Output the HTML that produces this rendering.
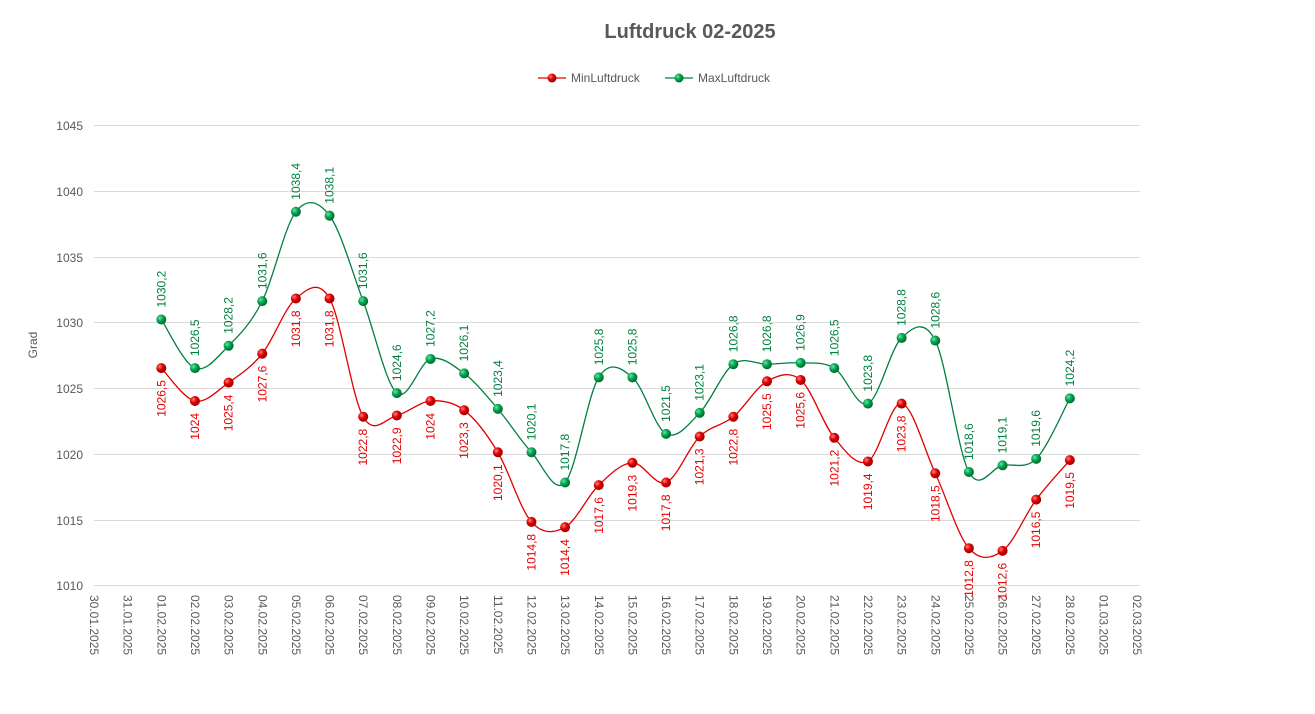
<!DOCTYPE html>
<html><head><meta charset="utf-8"><style>
body{margin:0;background:#fff;}
svg{display:block;font-family:"Liberation Sans",sans-serif;}
.g text{fill:#00803f;font-size:12px;}
.r text{fill:#e60000;font-size:12px;}
</style></head><body>
<svg id="s" width="1315" height="714" viewBox="0 0 1315 714">
<defs>
<radialGradient id="rg" cx="35%" cy="35%" r="65%"><stop offset="0" stop-color="#ff8080"/><stop offset="0.5" stop-color="#e00000"/><stop offset="1" stop-color="#a00000"/></radialGradient>
<radialGradient id="gg" cx="35%" cy="35%" r="65%"><stop offset="0" stop-color="#70e0a0"/><stop offset="0.5" stop-color="#00a550"/><stop offset="1" stop-color="#006a30"/></radialGradient>
</defs>
<text x="690" y="38" text-anchor="middle" font-size="20" font-weight="bold" fill="#595959">Luftdruck 02-2025</text>
<g font-size="12" fill="#595959">
<line x1="538" y1="78" x2="566" y2="78" stroke="#e00000" stroke-width="1.3"/><circle cx="552" cy="78" r="4.5" fill="url(#rg)"/>
<text x="571" y="82">MinLuftdruck</text>
<line x1="665" y1="78" x2="693" y2="78" stroke="#00803f" stroke-width="1.3"/><circle cx="679" cy="78" r="4.5" fill="url(#gg)"/>
<text x="698" y="82">MaxLuftdruck</text>
</g>
<g stroke="#d9d9d9" stroke-width="1">
<line x1="94" x2="1140" y1="125.5" y2="125.5"/><line x1="94" x2="1140" y1="191.5" y2="191.5"/><line x1="94" x2="1140" y1="257.5" y2="257.5"/><line x1="94" x2="1140" y1="322.5" y2="322.5"/><line x1="94" x2="1140" y1="388.5" y2="388.5"/><line x1="94" x2="1140" y1="454.5" y2="454.5"/><line x1="94" x2="1140" y1="520.5" y2="520.5"/><line x1="94" x2="1140" y1="585.5" y2="585.5"/>
</g>
<g font-size="12" fill="#595959" text-anchor="end">
<text x="83" y="130">1045</text><text x="83" y="196">1040</text><text x="83" y="262">1035</text><text x="83" y="327">1030</text><text x="83" y="393">1025</text><text x="83" y="459">1020</text><text x="83" y="525">1015</text><text x="83" y="590">1010</text>
</g>
<text transform="translate(37,345) rotate(-90)" text-anchor="middle" font-size="12" fill="#595959">Grad</text>
<g id="xl" font-size="12" fill="#595959">
<text transform="translate(94,595) rotate(90)" dominant-baseline="central">30.01.2025</text>
<text transform="translate(127.65,595) rotate(90)" dominant-baseline="central">31.01.2025</text>
<text transform="translate(161.3,595) rotate(90)" dominant-baseline="central">01.02.2025</text>
<text transform="translate(194.95,595) rotate(90)" dominant-baseline="central">02.02.2025</text>
<text transform="translate(228.6,595) rotate(90)" dominant-baseline="central">03.02.2025</text>
<text transform="translate(262.25,595) rotate(90)" dominant-baseline="central">04.02.2025</text>
<text transform="translate(295.9,595) rotate(90)" dominant-baseline="central">05.02.2025</text>
<text transform="translate(329.55,595) rotate(90)" dominant-baseline="central">06.02.2025</text>
<text transform="translate(363.2,595) rotate(90)" dominant-baseline="central">07.02.2025</text>
<text transform="translate(396.85,595) rotate(90)" dominant-baseline="central">08.02.2025</text>
<text transform="translate(430.5,595) rotate(90)" dominant-baseline="central">09.02.2025</text>
<text transform="translate(464.15,595) rotate(90)" dominant-baseline="central">10.02.2025</text>
<text transform="translate(497.8,595) rotate(90)" dominant-baseline="central">11.02.2025</text>
<text transform="translate(531.45,595) rotate(90)" dominant-baseline="central">12.02.2025</text>
<text transform="translate(565.1,595) rotate(90)" dominant-baseline="central">13.02.2025</text>
<text transform="translate(598.75,595) rotate(90)" dominant-baseline="central">14.02.2025</text>
<text transform="translate(632.4,595) rotate(90)" dominant-baseline="central">15.02.2025</text>
<text transform="translate(666.05,595) rotate(90)" dominant-baseline="central">16.02.2025</text>
<text transform="translate(699.7,595) rotate(90)" dominant-baseline="central">17.02.2025</text>
<text transform="translate(733.35,595) rotate(90)" dominant-baseline="central">18.02.2025</text>
<text transform="translate(767,595) rotate(90)" dominant-baseline="central">19.02.2025</text>
<text transform="translate(800.65,595) rotate(90)" dominant-baseline="central">20.02.2025</text>
<text transform="translate(834.3,595) rotate(90)" dominant-baseline="central">21.02.2025</text>
<text transform="translate(867.95,595) rotate(90)" dominant-baseline="central">22.02.2025</text>
<text transform="translate(901.6,595) rotate(90)" dominant-baseline="central">23.02.2025</text>
<text transform="translate(935.25,595) rotate(90)" dominant-baseline="central">24.02.2025</text>
<text transform="translate(968.9,595) rotate(90)" dominant-baseline="central">25.02.2025</text>
<text transform="translate(1002.55,595) rotate(90)" dominant-baseline="central">26.02.2025</text>
<text transform="translate(1036.2,595) rotate(90)" dominant-baseline="central">27.02.2025</text>
<text transform="translate(1069.85,595) rotate(90)" dominant-baseline="central">28.02.2025</text>
<text transform="translate(1103.5,595) rotate(90)" dominant-baseline="central">01.03.2025</text>
<text transform="translate(1137.15,595) rotate(90)" dominant-baseline="central">02.03.2025</text>
</g>
<g id="lines"></g>
<g class="g">
<text transform="translate(161.3,307.5) rotate(-90)" dominant-baseline="central">1030,2</text>
<text transform="translate(194.95,356.1) rotate(-90)" dominant-baseline="central">1026,5</text>
<text transform="translate(228.6,333.8) rotate(-90)" dominant-baseline="central">1028,2</text>
<text transform="translate(262.25,289.1) rotate(-90)" dominant-baseline="central">1031,6</text>
<text transform="translate(295.9,199.7) rotate(-90)" dominant-baseline="central">1038,4</text>
<text transform="translate(329.55,203.7) rotate(-90)" dominant-baseline="central">1038,1</text>
<text transform="translate(363.2,289.1) rotate(-90)" dominant-baseline="central">1031,6</text>
<text transform="translate(396.85,381.1) rotate(-90)" dominant-baseline="central">1024,6</text>
<text transform="translate(430.5,346.9) rotate(-90)" dominant-baseline="central">1027,2</text>
<text transform="translate(464.15,361.4) rotate(-90)" dominant-baseline="central">1026,1</text>
<text transform="translate(497.8,396.9) rotate(-90)" dominant-baseline="central">1023,4</text>
<text transform="translate(531.45,440.3) rotate(-90)" dominant-baseline="central">1020,1</text>
<text transform="translate(565.1,470.5) rotate(-90)" dominant-baseline="central">1017,8</text>
<text transform="translate(598.75,365.3) rotate(-90)" dominant-baseline="central">1025,8</text>
<text transform="translate(632.4,365.3) rotate(-90)" dominant-baseline="central">1025,8</text>
<text transform="translate(666.05,421.9) rotate(-90)" dominant-baseline="central">1021,5</text>
<text transform="translate(699.7,400.8) rotate(-90)" dominant-baseline="central">1023,1</text>
<text transform="translate(733.35,352.2) rotate(-90)" dominant-baseline="central">1026,8</text>
<text transform="translate(767,352.2) rotate(-90)" dominant-baseline="central">1026,8</text>
<text transform="translate(800.65,350.9) rotate(-90)" dominant-baseline="central">1026,9</text>
<text transform="translate(834.3,356.1) rotate(-90)" dominant-baseline="central">1026,5</text>
<text transform="translate(867.95,391.6) rotate(-90)" dominant-baseline="central">1023,8</text>
<text transform="translate(901.6,325.9) rotate(-90)" dominant-baseline="central">1028,8</text>
<text transform="translate(935.25,328.5) rotate(-90)" dominant-baseline="central">1028,6</text>
<text transform="translate(968.9,460) rotate(-90)" dominant-baseline="central">1018,6</text>
<text transform="translate(1002.55,453.4) rotate(-90)" dominant-baseline="central">1019,1</text>
<text transform="translate(1036.2,446.8) rotate(-90)" dominant-baseline="central">1019,6</text>
<text transform="translate(1069.85,386.4) rotate(-90)" dominant-baseline="central">1024,2</text>
</g>
<g class="r" text-anchor="end">
<text transform="translate(161.3,380.1) rotate(-90)" dominant-baseline="central">1026,5</text>
<text transform="translate(194.95,413) rotate(-90)" dominant-baseline="central">1024</text>
<text transform="translate(228.6,394.6) rotate(-90)" dominant-baseline="central">1025,4</text>
<text transform="translate(262.25,365.7) rotate(-90)" dominant-baseline="central">1027,6</text>
<text transform="translate(295.9,310.5) rotate(-90)" dominant-baseline="central">1031,8</text>
<text transform="translate(329.55,310.5) rotate(-90)" dominant-baseline="central">1031,8</text>
<text transform="translate(363.2,428.8) rotate(-90)" dominant-baseline="central">1022,8</text>
<text transform="translate(396.85,427.5) rotate(-90)" dominant-baseline="central">1022,9</text>
<text transform="translate(430.5,413) rotate(-90)" dominant-baseline="central">1024</text>
<text transform="translate(464.15,422.2) rotate(-90)" dominant-baseline="central">1023,3</text>
<text transform="translate(497.8,464.3) rotate(-90)" dominant-baseline="central">1020,1</text>
<text transform="translate(531.45,533.9) rotate(-90)" dominant-baseline="central">1014,8</text>
<text transform="translate(565.1,539.2) rotate(-90)" dominant-baseline="central">1014,4</text>
<text transform="translate(598.75,497.1) rotate(-90)" dominant-baseline="central">1017,6</text>
<text transform="translate(632.4,474.8) rotate(-90)" dominant-baseline="central">1019,3</text>
<text transform="translate(666.05,494.5) rotate(-90)" dominant-baseline="central">1017,8</text>
<text transform="translate(699.7,448.5) rotate(-90)" dominant-baseline="central">1021,3</text>
<text transform="translate(733.35,428.8) rotate(-90)" dominant-baseline="central">1022,8</text>
<text transform="translate(767,393.3) rotate(-90)" dominant-baseline="central">1025,5</text>
<text transform="translate(800.65,392) rotate(-90)" dominant-baseline="central">1025,6</text>
<text transform="translate(834.3,449.8) rotate(-90)" dominant-baseline="central">1021,2</text>
<text transform="translate(867.95,473.5) rotate(-90)" dominant-baseline="central">1019,4</text>
<text transform="translate(901.6,415.6) rotate(-90)" dominant-baseline="central">1023,8</text>
<text transform="translate(935.25,485.3) rotate(-90)" dominant-baseline="central">1018,5</text>
<text transform="translate(968.9,560.2) rotate(-90)" dominant-baseline="central">1012,8</text>
<text transform="translate(1002.55,562.8) rotate(-90)" dominant-baseline="central">1012,6</text>
<text transform="translate(1036.2,511.6) rotate(-90)" dominant-baseline="central">1016,5</text>
<text transform="translate(1069.85,472.1) rotate(-90)" dominant-baseline="central">1019,5</text>
</g>
</svg>
<script>
(function(){
var mn=[1026.5,1024,1025.4,1027.6,1031.8,1031.8,1022.8,1022.9,1024,1023.3,1020.1,1014.8,1014.4,1017.6,1019.3,1017.8,1021.3,1022.8,1025.5,1025.6,1021.2,1019.4,1023.8,1018.5,1012.8,1012.6,1016.5,1019.5];
var mx=[1030.2,1026.5,1028.2,1031.6,1038.4,1038.1,1031.6,1024.6,1027.2,1026.1,1023.4,1020.1,1017.8,1025.8,1025.8,1021.5,1023.1,1026.8,1026.8,1026.9,1026.5,1023.8,1028.8,1028.6,1018.6,1019.1,1019.6,1024.2];
var ns="http://www.w3.org/2000/svg",g=document.getElementById("lines");
function pts(a){return a.map(function(v,i){return [94+33.65*(i+2),585-(v-1010)*13.143];});}
function path(p){var d="M"+p[0][0]+","+p[0][1];var t=1/6;
for(var i=0;i<p.length-1;i++){var p0=p[i>0?i-1:i],p1=p[i],p2=p[i+1],p3=p[i+2<p.length?i+2:i+1];
d+=" C"+(p1[0]+(p2[0]-p0[0])*t)+","+(p1[1]+(p2[1]-p0[1])*t)+" "+(p2[0]-(p3[0]-p1[0])*t)+","+(p2[1]-(p3[1]-p1[1])*t)+" "+p2[0]+","+p2[1];}
return d;}
function draw(a,col,grad){var p=pts(a);var e=document.createElementNS(ns,"path");e.setAttribute("d",path(p));e.setAttribute("fill","none");e.setAttribute("stroke",col);e.setAttribute("stroke-width","1.3");g.appendChild(e);
p.forEach(function(q){var c=document.createElementNS(ns,"circle");c.setAttribute("cx",q[0]);c.setAttribute("cy",q[1]);c.setAttribute("r","5");c.setAttribute("fill","url(#"+grad+")");g.appendChild(c);});}
draw(mn,"#e00000","rg");draw(mx,"#00803f","gg");
})();
</script>
</body></html>
